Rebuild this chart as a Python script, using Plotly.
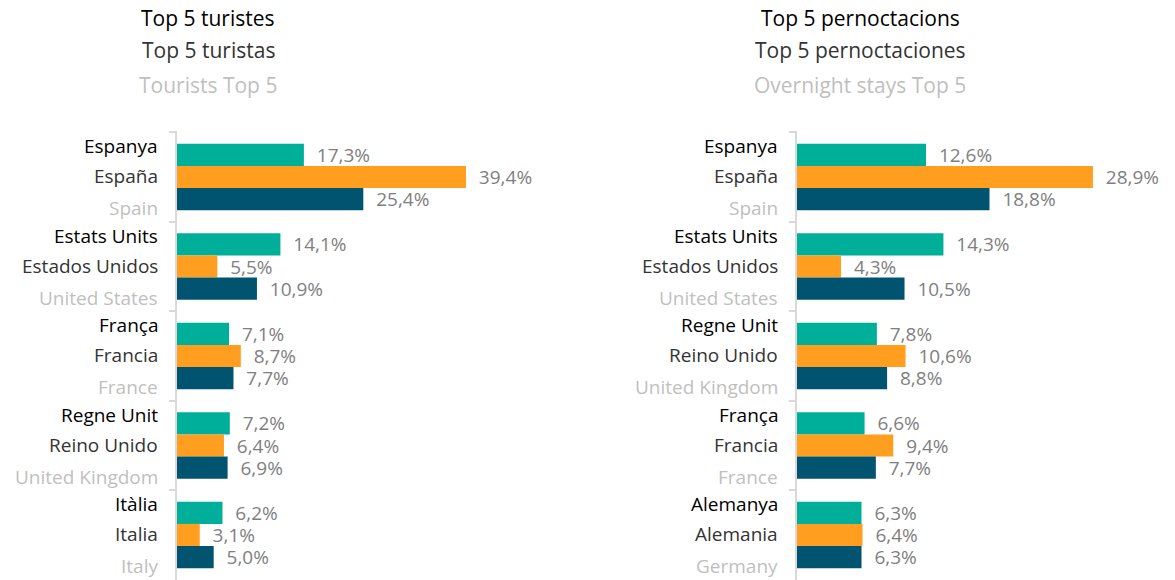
import plotly.graph_objects as go

# ---------------- data ----------------
left_cat_ca = ["Espanya", "Estats Units", "França", "Regne Unit", "Itàlia"]
left_cat_es = ["España", "Estados Unidos", "Francia", "Reino Unido", "Italia"]
left_cat_en = ["Spain", "United States", "France", "United Kingdom", "Italy"]
left_teal = [17.3, 14.1, 7.1, 7.2, 6.2]
left_orange = [39.4, 5.5, 8.7, 6.4, 3.1]
left_dark = [25.4, 10.9, 7.7, 6.9, 5.0]

right_cat_ca = ["Espanya", "Estats Units", "Regne Unit", "França", "Alemanya"]
right_cat_es = ["España", "Estados Unidos", "Reino Unido", "Francia", "Alemania"]
right_cat_en = ["Spain", "United States", "United Kingdom", "France", "Germany"]
right_teal = [12.6, 14.3, 7.8, 6.6, 6.3]
right_orange = [28.9, 4.3, 10.6, 9.4, 6.4]
right_dark = [18.8, 10.5, 8.8, 7.7, 6.3]

left_titles = ["Top 5 turistes", "Top 5 turistas", "Tourists Top 5"]
right_titles = ["Top 5 pernoctacions", "Top 5 pernoctaciones", "Overnight stays Top 5"]

# ---------------- style ----------------
W, H = 1175, 580
OFF = 8  # page body margin offset
FONT = "Open Sans"
COLORS = ["#00AF9A", "#FF9E1F", "#005470"]
LINE_COLORS = ["#000000", "#333333", "#BFBFBF"]
VAL_COLOR = "#7F7F7F"
AXIS_COLOR = "#D9D9D9"


def fmt(v):
    return "\u00a0\u00a0" + f"{v:.1f}%".replace(".", ",")


fig = go.Figure()

panels = [
    dict(xa="x", ya="y", cats=left_cat_ca, es=left_cat_es, en=left_cat_en,
         series=[left_teal, left_orange, left_dark]),
    dict(xa="x2", ya="y2", cats=right_cat_ca, es=right_cat_es, en=right_cat_en,
         series=[right_teal, right_orange, right_dark]),
]

for p in panels:
    for vals, col in zip(p["series"], COLORS):
        fig.add_trace(go.Bar(
            y=p["cats"], x=vals, orientation="h",
            xaxis=p["xa"], yaxis=p["ya"],
            marker=dict(color=col, line=dict(width=0)),
            text=[fmt(v) for v in vals], textposition="outside",
            textfont=dict(family=FONT, size=19, color=VAL_COLOR),
            constraintext="none", cliponaxis=False,
            hoverinfo="skip", showlegend=False,
        ))

# pixel geometry (reference pixels minus page offset)
top_px = 131 - OFF
bottom_px = 581 - OFF
ydom = [(H - bottom_px) / H, (H - top_px) / H]
left_axis_px, left_end_px = 177 - OFF, 600 - OFF
right_axis_px, right_end_px = 797 - OFF, 1175
left_scale = 7.335   # px per percentage point
right_scale = 10.24

fig.update_layout(
    width=W, height=H,
    margin=dict(l=0, r=0, t=0, b=0),
    paper_bgcolor="white", plot_bgcolor="white",
    barmode="group", bargap=0.255, bargroupgap=0,
    font=dict(family=FONT),
    xaxis=dict(domain=[left_axis_px / W, left_end_px / W],
               range=[0, (left_end_px - left_axis_px) / left_scale],
               visible=False, fixedrange=True),
    xaxis2=dict(domain=[right_axis_px / W, right_end_px / W],
                range=[0, (right_end_px - right_axis_px) / right_scale],
                visible=False, fixedrange=True),
)
yaxis_common = dict(domain=ydom, autorange="reversed", type="category",
                    showline=True, linecolor=AXIS_COLOR, linewidth=2,
                    ticks="outside", ticklen=6, tickcolor=AXIS_COLOR, tickwidth=2,
                    tickson="boundaries", showticklabels=False,
                    showgrid=False, zeroline=False, fixedrange=True)
fig.update_layout(yaxis=dict(yaxis_common, anchor="x"),
                  yaxis2=dict(yaxis_common, anchor="x2"))

# category labels (three languages per category)
shifts = [31, 1, -31]
for p in panels:
    for i, cat in enumerate(p["cats"]):
        lines = [cat, p["es"][i], p["en"][i]]
        for line, col, ys in zip(lines, LINE_COLORS, shifts):
            fig.add_annotation(
                x=0, y=cat, xref=p["xa"], yref=p["ya"],
                text=line, showarrow=False, xanchor="right", yanchor="middle",
                xshift=-17, yshift=ys,
                font=dict(family=FONT, size=19, color=col),
            )

# panel titles
title_y_px = [18 - OFF, 50 - OFF, 85 - OFF]
for titles, cx in [(left_titles, 208 - OFF), (right_titles, 860 - OFF)]:
    for t, col, ypx in zip(titles, LINE_COLORS, title_y_px):
        fig.add_annotation(
            x=cx / W, y=1 - ypx / H, xref="paper", yref="paper",
            text=t, showarrow=False, xanchor="center", yanchor="middle",
            font=dict(family=FONT, size=21, color=col),
        )

fig.write_html("out.html")
